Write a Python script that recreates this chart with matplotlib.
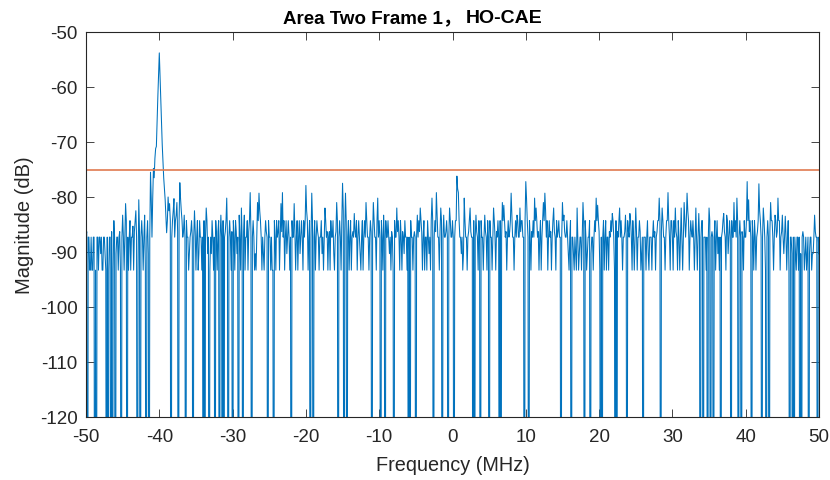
import numpy as np
import matplotlib
matplotlib.use("Agg")
import matplotlib.pyplot as plt

plt.rcParams['font.family'] = ['Liberation Sans', 'DejaVu Sans']
plt.rcParams['axes.unicode_minus'] = False

D = -200.0  # bins below the display floor

freq_start = -50.0
freq_stop = 50.0

# even bins (0.2 MHz apart)
mag_a = [-87.3, D, -87.3, -93.3, -93.3, -87.3, D, D, -87.3, -87.3,
         -90.3, -93.3, -87.3, -90.3, D, D, -87.3, D, D, -84.3,
         D, -87.3, -93.3, -86.3, D, -83.3, -93.3, -81.2, D, -93.3,
         -84.3, -87.3, -85.3, -86.3, -82.5, D, -80.5, D, -84.3, -93.3,
         -83.3, D, -84.3, D, -75.5, -87.3, -74.8, -73.0, -70.8, -61.8]
mag_b = [-53.8, -62.5, -70.5, -76.5, -80.5, -86.5, -80.0, -81.2, D, -84.3,
         -80.3, -84.3, -81.0, D, -77.4, -82.5, -87.3, -83.3, D, -87.3,
         -93.3, -87.3, -84.3, D, -82.5, -93.3, -84.3, -90.3, -87.3, -93.3,
         D, D, -82.0, -90.3, D, -87.3, -84.3, -93.3, D, -87.3,
         -86.3, D, -83.3, D, D, -86.3, -80.2, D, -84.3, -93.3]
mag_c = [D, -87.3, -84.3, -90.3, D, -87.3, -82.0, D, -83.3, -87.3,
         -84.3, -86.3, -79.2, D, -84.3, -93.3, -93.3, -81.0, -79.3, -84.3,
         -93.3, -90.3, -87.3, -86.3, D, -87.3, -93.3, -93.3, D, -87.3,
         -84.3, -86.3, -93.3, -81.2, -79.2, -84.3, -87.3, -90.3, -84.3, -93.3,
         D, -87.3, -81.2, -93.3, -84.3, -87.3, -90.3, -84.3, -93.3, -87.3]
mag_d = [-77.9, -84.3, -87.3, D, -79.3, D, -84.3, -87.3, -86.3, -93.3,
         -87.3, -90.3, -93.3, -82.0, -87.3, -93.3, -86.3, -84.3, -87.3, -90.3,
         -87.3, -81.0, D, -84.3, -93.3, -77.5, D, -79.3, D, -84.3,
         -87.3, -93.3, -86.3, -83.0, -87.3, -93.3, -84.3, -90.3, -87.3, -93.3,
         -84.3, -81.0, -87.3, -93.3, -84.3, D, -81.0, -87.3, -93.3, -80.2]
mag_e = [-84.3, D, -87.3, -83.3, D, -87.3, -84.3, -90.3, -93.3, -87.3,
         D, -87.3, -82.0, -84.3, -93.3, -87.3, -86.3, -90.3, -87.3, -93.3,
         D, D, -87.3, -93.3, -86.3, D, -83.3, -84.3, -82.0, -86.3,
         -87.3, -93.3, -87.3, -84.3, -90.3, -93.3, -80.2, D, -84.3, -79.2,
         -87.3, -93.3, -82.0, D, -83.3, -87.3, -84.3, D, -82.0, -87.3]
mag_f = [-84.3, D, -84.3, -76.2, -79.2, -87.3, -90.3, -93.3, -80.2, -87.3,
         -93.3, -86.3, -82.0, -87.3, D, D, -83.3, -87.3, -84.3, D,
         -87.3, -93.3, -83.3, -87.3, -84.3, D, -87.3, -93.3, -82.0, -87.3,
         -86.3, -84.3, D, D, -81.0, -81.5, -87.3, -93.3, -84.3, -86.3,
         -79.3, -87.3, -93.3, -84.3, -83.3, -87.3, -82.0, -84.3, -87.3, D]
mag_g = [-77.2, -84.3, D, -87.3, -86.3, -84.3, -80.2, -82.0, -87.3, -93.3,
         -84.3, -87.3, -81.0, -79.3, -87.3, -93.3, -84.3, -86.3, -87.3, -82.0,
         -87.3, -84.3, -86.3, -87.3, D, -81.0, -83.3, -87.3, -84.3, -90.3,
         -87.3, D, -87.3, -93.3, -90.3, -82.0, -93.3, -87.3, -93.3, -81.0,
         D, -87.3, -90.3, -87.3, D, -87.3, -93.3, -84.3, -80.2, -81.5]
mag_h = [-86.3, D, D, -84.3, -87.3, -93.3, -87.3, -86.3, -84.3, -83.0,
         -87.3, D, D, -87.3, -82.0, -84.3, -93.3, -87.3, -83.3, D,
         -86.3, -83.0, -87.3, -84.3, -93.3, -82.0, -93.3, -87.3, -86.3, -90.3,
         D, -87.3, -93.3, -84.3, -93.3, -87.3, -93.3, -84.3, -86.3, -87.3,
         -84.3, -80.2, D, -82.0, -87.3, -93.3, -84.3, -79.2, -87.3, -84.3]
mag_i = [-87.3, -84.3, -82.0, -87.3, -84.3, -93.3, -82.0, -93.3, -81.0, -87.3,
         -79.3, -84.3, -87.3, -86.3, -84.3, -93.3, -82.0, -93.3, -83.0, D,
         -84.3, D, -87.3, -93.3, D, -82.0, D, -86.3, D, -84.3,
         -87.3, -90.3, -93.3, D, -86.3, -83.0, -87.3, -83.3, -90.3, -84.3,
         D, -87.3, -81.0, -84.3, -80.2, D, -84.3, D, -87.3, -84.3]
mag_j = [-87.3, -77.2, -80.5, -84.3, D, -87.3, -84.3, -93.3, -86.3, -77.6,
         -84.3, D, -82.0, -87.3, D, -84.3, D, -81.0, -84.3, -93.3,
         -83.3, -87.3, -80.2, -84.3, -87.3, -83.3, -90.3, -83.5, -93.3, -84.3,
         D, -87.3, D, D, -90.3, -87.3, -93.3, D, D, -86.3,
         -93.3, -87.3, -90.3, D, -87.3, -93.3, -90.3, -83.3, -87.3, D,
         -90.3]

# odd bins (between the even ones)
mid_a = [-86.3, -87.3, -93.3, -87.3, -93.3, -87.3, -93.3, -87.3, -93.3, -87.3,
         -87.3, -93.3, -87.3, -93.3, -87.3, -93.3, -87.3, -86.3, -93.3, -87.3,
         -90.3, -87.3, -87.3, -93.3, -87.3, -87.3, -87.3, -84.3, -87.3, -87.3,
         -93.3, -87.3, -93.3, -84.3, -87.3, -93.3, -86.3, -87.3, -87.3, -87.3,
         -93.3, -87.3, -90.3, -87.3, -80.3, -80.3, -76.5, -71.2, -66.0, -57.5]
mid_b = [-58.0, -66.5, -73.5, -78.5, -83.3, -84.3, -82.5, -84.3, -87.3, -82.5,
         -87.3, -83.3, -86.3, -84.3, -80.3, -84.3, -86.3, -87.3, -84.3, -87.3,
         -90.3, -86.3, -87.3, -87.3, -86.3, -87.3, -93.3, -84.3, -87.3, -87.3,
         -84.3, -87.3, -84.3, -87.3, -93.3, -90.3, -87.3, -87.3, -84.3, -93.3,
         -84.3, -87.3, -87.3, -84.3, -87.3, -84.3, -87.3, -87.3, -87.3, -86.3]
mid_c = [-84.3, -93.3, -86.3, -87.3, -83.3, -93.3, -87.3, -86.3, -93.3, -87.3,
         -93.3, -84.3, -86.3, -87.3, -87.3, -90.3, -87.3, -84.3, -82.5, -87.3,
         -87.3, -93.3, -84.3, -87.3, -84.3, -87.3, -87.3, -93.3, -84.3, -93.3,
         -87.3, -84.3, -87.3, -86.3, -87.3, -93.3, -84.3, -87.3, -87.3, -87.3,
         -84.3, -87.3, -86.3, -87.3, -93.3, -84.3, -87.3, -87.3, -84.3, -84.3]
mid_d = [-82.5, -93.3, -84.3, -87.3, -84.3, -87.3, -93.3, -84.3, -87.3, -87.3,
         -84.3, -87.3, -87.3, -84.3, -86.3, -87.3, -93.3, -87.3, -84.3, -93.3,
         -86.3, -84.3, -87.3, -87.3, -84.3, -82.5, -86.3, -84.3, -87.3, -93.3,
         -84.3, -87.3, -87.3, -86.3, -84.3, -87.3, -87.3, -93.3, -84.3, -87.3,
         -87.3, -84.3, -87.3, -87.3, -86.3, -87.3, -84.3, -87.3, -84.3, -87.3]
mid_e = [-87.3, -84.3, -93.3, -87.3, -84.3, -87.3, -87.3, -87.3, -86.3, -93.3,
         -84.3, -87.3, -86.3, -87.3, -84.3, -93.3, -87.3, -84.3, -87.3, -87.3,
         -87.3, -84.3, -87.3, -87.3, -87.3, -87.3, -87.3, -86.3, -84.3, -93.3,
         -84.3, -87.3, -93.3, -87.3, -87.3, -84.3, -84.3, -87.3, -86.3, -83.3,
         -87.3, -86.3, -84.3, -87.3, -87.3, -86.3, -87.3, -87.3, -84.3, -87.3]
mid_f = [-87.3, -87.3, -84.3, -78.5, -84.3, -87.3, -87.3, -90.3, -84.3, -87.3,
         -87.3, -84.3, -86.3, -87.3, -84.3, -87.3, -86.3, -93.3, -87.3, -84.3,
         -87.3, -87.3, -86.3, -93.3, -87.3, -84.3, -87.3, -87.3, -84.3, -93.3,
         -87.3, -87.3, -84.3, -87.3, -84.3, -84.3, -86.3, -87.3, -87.3, -84.3,
         -83.3, -87.3, -87.3, -87.3, -84.3, -87.3, -86.3, -84.3, -87.3, -84.3]
mid_g = [-80.3, -87.3, -84.3, -93.3, -87.3, -87.3, -84.3, -84.3, -86.3, -87.3,
         -93.3, -84.3, -84.3, -82.5, -84.3, -87.3, -87.3, -93.3, -84.3, -86.3,
         -93.3, -87.3, -84.3, -87.3, -87.3, -84.3, -86.3, -87.3, -87.3, -93.3,
         -84.3, -87.3, -90.3, -87.3, -93.3, -87.3, -90.3, -87.3, -87.3, -84.3,
         -84.3, -93.3, -87.3, -84.3, -90.3, -87.3, -87.3, -86.3, -84.3, -84.3]
mid_h = [-93.3, -87.3, -87.3, -93.3, -84.3, -87.3, -93.3, -87.3, -86.3, -84.3,
         -93.3, -84.3, -86.3, -84.3, -87.3, -87.3, -87.3, -86.3, -87.3, -84.3,
         -87.3, -84.3, -93.3, -87.3, -87.3, -86.3, -87.3, -84.3, -93.3, -87.3,
         -87.3, -87.3, -87.3, -90.3, -87.3, -87.3, -87.3, -87.3, -93.3, -86.3,
         -84.3, -84.3, -86.3, -84.3, -87.3, -87.3, -84.3, -84.3, -93.3, -84.3]
mid_i = [-93.3, -87.3, -86.3, -93.3, -87.3, -87.3, -87.3, -87.3, -84.3, -84.3,
         -82.5, -93.3, -84.3, -87.3, -87.3, -87.3, -87.3, -87.3, -87.3, -87.3,
         -84.3, -87.3, -87.3, -87.3, -87.3, -84.3, -87.3, -87.3, -87.3, -93.3,
         -84.3, -87.3, -87.3, -87.3, -84.3, -86.3, -93.3, -84.3, -87.3, -87.3,
         -84.3, -87.3, -86.3, -87.3, -84.3, -87.3, -87.3, -86.3, -93.3, -87.3]
mid_j = [-84.3, -84.3, -86.3, -87.3, -84.3, -93.3, -87.3, -87.3, -84.3, -82.5,
         -87.3, -87.3, -84.3, -93.3, -87.3, -87.3, -86.3, -84.3, -87.3, -87.3,
         -84.3, -86.3, -84.3, -93.3, -86.3, -87.3, -87.3, -87.3, -87.3, -93.3,
         -87.3, -90.3, -87.3, -87.3, -93.3, -87.3, -87.3, -90.3, -87.3, -87.3,
         -90.3, -93.3, -87.3, -90.3, -87.3, -90.3, -87.3, -86.3, -87.3, -87.3]

even_bins = np.array(mag_a + mag_b + mag_c + mag_d + mag_e +
                     mag_f + mag_g + mag_h + mag_i + mag_j)
odd_bins = np.array(mid_a + mid_b + mid_c + mid_d + mid_e +
                    mid_f + mid_g + mid_h + mid_i + mid_j)
magnitude = np.empty(len(even_bins) + len(odd_bins))
magnitude[0::2] = even_bins
magnitude[1::2] = odd_bins
frequency = np.linspace(freq_start, freq_stop, len(magnitude))

threshold = -75.0

xticks = [-50, -40, -30, -20, -10, 0, 10, 20, 30, 40, 50]
yticks = [-120, -110, -100, -90, -80, -70, -60, -50]

fig = plt.figure(figsize=(8.3, 4.81), dpi=100)
ax = fig.add_axes([86/830, 1-418/481, (819-86)/830, (418-33)/481])

ax.plot(frequency, magnitude, color='#0072BD', lw=0.75)
ax.plot([freq_start, freq_stop], [threshold, threshold], color='#E07A50', lw=1.2)

ax.set_xlim(freq_start, freq_stop)
ax.set_ylim(-120, -50)
ax.set_xticks(xticks)
ax.set_yticks(yticks)
ax.tick_params(direction='in', length=5.5, width=0.6, top=True, right=True,
               labelsize=13.5, colors='#262626')
ax.tick_params(axis='x', pad=8)
ax.tick_params(axis='y', pad=6)
for s in ax.spines.values():
    s.set_linewidth(0.8)
    s.set_color('#262626')

ax.set_xlabel('Frequency (MHz)', fontsize=14.3, color='#262626', labelpad=7)
ax.set_ylabel('Magnitude (dB)', fontsize=14.5, color='#262626', labelpad=4)

fig.text(283/830, 1-23/481, 'Area Two Frame 1，', ha='left', va='baseline',
         fontsize=13.5, fontweight='bold',
         family=['Liberation Sans', 'Noto Sans CJK SC', 'DejaVu Sans'])
fig.text(466/830, 1-23/481, 'HO-CAE', ha='left', va='baseline',
         fontsize=14, fontweight='bold',
         family=['Liberation Sans', 'DejaVu Sans'])

fig.savefig('out.png', dpi=100)
